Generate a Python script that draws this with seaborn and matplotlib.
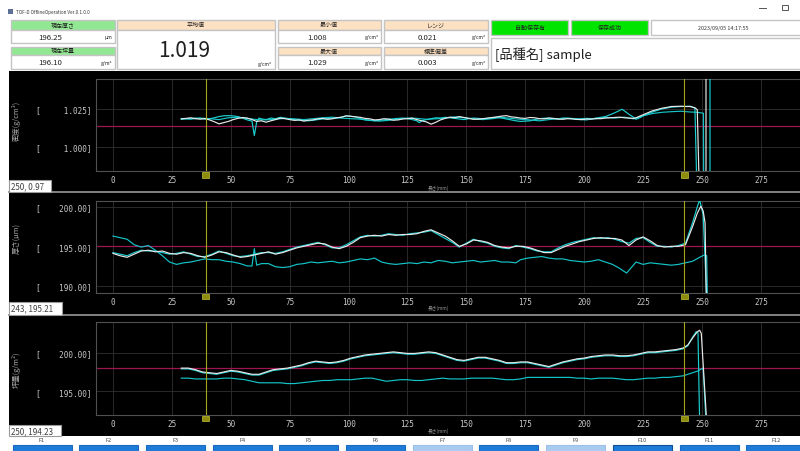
import numpy as np
import pandas as pd
import matplotlib
matplotlib.use("Agg")
import matplotlib.pyplot as plt
from matplotlib.patches import Rectangle
from matplotlib.transforms import blended_transform_factory
import seaborn as sns

plt.rcParams['font.family'] = ['Noto Sans CJK JP', 'DejaVu Sans']
plt.rcParams['axes.unicode_minus'] = False

# ---------------- data ----------------
title_text = "TOF-D OfflineOperation Ver.0.1.0.0"
thick_now = "196.25"
basis_now = "196.10"
mean_val = "1.019"
min_val = "1.008"
max_val = "1.029"
range_val = "0.021"
std_val = "0.003"
timestamp = "2023/09/05 14:17:55"
product = "[品種名] sample"
status_labels = ["自動保存有", "保存成功"]
fkeys = ["F1", "F2", "F3", "F4", "F5", "F6", "F7", "F8", "F9", "F10", "F11", "F12"]
fkey_enabled = [True, True, True, True, True, True, False, True, False, True, True, True]

x_ticks = [0, 25, 50, 75, 100, 125, 150, 175, 200, 225, 250, 275]
cursor_x = [39.3, 242.5]

density_ticks = [1.000, 1.025]
density_target = 1.014
density_white = [(29,1.0185),(31,1.0188),(33,1.0192),(35,1.0186),(37,1.0183),(39,1.0187),(41,1.0178),(43,1.0166),
    (45,1.0152),(47,1.0160),(49,1.0168),(51,1.0180),(53,1.0188),(55,1.0193),(57,1.0190),(59,1.0180),
    (61,1.0168),(63,1.0172),(65,1.0163),(67,1.0172),(69,1.0180),(71,1.0190),(73,1.0186),(75,1.0180),(77,1.0175),
    (79,1.0178),(81,1.0170),(83,1.0176),(85,1.0178),(87,1.0185),(89,1.0188),(91,1.0182),(93,1.0185),(95,1.0192),
    (97,1.0196),(99,1.0205),(101,1.0202),(103,1.0198),(105,1.0195),(107,1.0188),(109,1.0185),(111,1.0178),
    (113,1.0180),(115,1.0186),(117,1.0183),(119,1.0176),(121,1.0178),(123,1.0184),(125,1.0186),(127,1.0190),
    (129,1.0180),(131,1.0172),(133,1.0165),(135,1.0150),(137,1.0162),(139,1.0178),(141,1.0188),(143,1.0196),
    (145,1.0192),(147,1.0200),(149,1.0194),(151,1.0188),(153,1.0182),(155,1.0183),(157,1.0186),(159,1.0190),
    (161,1.0194),(163,1.0198),(165,1.0203),(167,1.0206),(169,1.0198),(171,1.0195),(173,1.0190),(175,1.0188),
    (177,1.0194),(179,1.0192),(181,1.0186),(183,1.0185),(185,1.0190),(187,1.0188),(189,1.0183),(191,1.0182),
    (193,1.0186),(195,1.0185),(197,1.0181),(199,1.0180),(201,1.0184),(203,1.0183),(205,1.0187),(207,1.0186),
    (209,1.0190),(211,1.0192),(213,1.0194),(215,1.0196),(217,1.0192),(219,1.0190),(221,1.0188),(222,1.0192),
    (225,1.0212),(227,1.0225),(229,1.0238),(231,1.0246),(233,1.0255),(235,1.0260),(237,1.0266),(239,1.0267),
    (241,1.0268),(243,1.0266),(245,1.0266),(247,1.0258),(248,1.0245),
    (249.2,0.95),(251.7,0.95),(251.7,1.10)]
density_cyan1 = [(29,1.0182),(31,1.0186),(33,1.0186),(35,1.0190),(37,1.0188),(39,1.0183),(41,1.0185),(43,1.0192),
    (45,1.0200),(47,1.0205),(49,1.0206),(51,1.0204),(53,1.0200),(55,1.0190),(57,1.0178),(59,1.0170),(60,1.0075),
    (61,1.0165),(62,1.0190),(63,1.0185),(65,1.0180),(67,1.0190),(69,1.0186),(71,1.0195),(73,1.0190),(75,1.0185),
    (77,1.0180),(79,1.0176),(81,1.0174),(83,1.0172),(85,1.0176),(87,1.0180),(89,1.0184),(91,1.0186),(93,1.0190),
    (95,1.0190),(97,1.0196),(99,1.0204),(101,1.0201),(103,1.0198),(105,1.0186),(107,1.0178),(109,1.0175),
    (111,1.0172),(113,1.0176),(115,1.0178),(117,1.0183),(119,1.0185),(121,1.0188),(123,1.0190),(125,1.0186),
    (127,1.0180),(129,1.0172),(130,1.0160),(131,1.0172),(133,1.0180),(135,1.0186),(137,1.0192),(139,1.0190),
    (141,1.0195),(143,1.0192),(145,1.0188),(147,1.0184),(149,1.0180),(151,1.0186),(153,1.0190),(155,1.0188),
    (157,1.0185),(159,1.0188),(161,1.0192),(163,1.0195),(165,1.0190),(167,1.0184),(169,1.0178),(171,1.0172),
    (173,1.0168),(175,1.0170),(177,1.0172),(179,1.0180),(181,1.0186),(183,1.0189),(185,1.0190),(187,1.0186),
    (189,1.0185),(191,1.0190),(193,1.0188),(195,1.0185),(197,1.0182),(199,1.0180),(201,1.0178),(203,1.0184),
    (205,1.0190),(207,1.0195),(209,1.0200),(211,1.0212),(213,1.0225),(215,1.0240),(216,1.0248),(217,1.0238),
    (219,1.0215),(221,1.0195),(222,1.0182),(224,1.0195),(225,1.0205),(227,1.0218),(229,1.0230),(231,1.0240),
    (233,1.0250),(235,1.0256),(237,1.0262),(239,1.0264),(241,1.0266),(243,1.0267),(245,1.0268),(247,1.0255),
    (248.2,0.95),(253.4,0.95),(253.4,1.10)]
density_cyan2 = [(29,1.0186),(33,1.0183),(37,1.0190),(41,1.0186),(45,1.0180),(49,1.0192),(53,1.0195),(57,1.0188),
    (61,1.0180),(65,1.0178),(69,1.0183),(73,1.0188),(77,1.0185),(81,1.0180),(85,1.0186),(89,1.0192),(93,1.0196),
    (97,1.0190),(101,1.0186),(105,1.0183),(109,1.0176),(113,1.0170),(117,1.0175),(121,1.0183),(125,1.0190),
    (129,1.0188),(133,1.0182),(137,1.0185),(141,1.0190),(145,1.0198),(149,1.0192),(153,1.0185),(157,1.0180),
    (161,1.0186),(165,1.0195),(169,1.0188),(173,1.0182),(177,1.0178),(181,1.0172),(185,1.0180),(189,1.0186),
    (193,1.0190),(197,1.0185),(201,1.0188),(205,1.0185),(209,1.0195),(213,1.0190),(217,1.0196),(221,1.0185),
    (225,1.0205),(229,1.0220),(233,1.0228),(237,1.0232),(241,1.0235),(245,1.0230),(248,1.0228),(250.6,1.0222),
    (250.8,0.95)]

thick_ticks = [190.0, 195.0, 200.0]
thick_target = 195.0
thick_white = [(0,194.1),(3,193.8),(6,193.6),(9,194.0),(12,194.4),(15,194.5),(18,194.3),(21,194.4),(24,194.1),
    (27,194.0),(30,194.2),(33,194.1),(36,193.8),(39,193.6),(42,193.9),(45,194.3),(48,194.2),(51,193.9),
    (54,193.6),(57,193.7),(60,193.9),(63,194.1),(66,194.3),(69,194.0),(72,194.2),(75,194.5),(78,194.8),
    (81,195.0),(84,195.2),(87,195.4),(90,195.3),(93,194.9),(96,194.7),(99,195.0),(102,195.5),(105,196.1),
    (108,196.3),(111,196.4),(114,196.3),(117,196.5),(120,196.4),(123,196.5),(126,196.5),(129,196.6),
    (132,196.9),(135,197.1),(138,196.7),(141,196.3),(144,195.7),(147,195.0),(150,195.3),(153,195.8),
    (156,195.7),(159,195.5),(162,195.1),(165,194.9),(168,194.8),(171,195.0),(174,195.0),(177,194.8),
    (180,194.5),(183,194.2),(186,194.2),(189,194.6),(192,195.0),(195,195.3),(198,195.6),(201,195.8),
    (204,196.0),(207,196.1),(210,196.0),(213,196.0),(216,195.8),(219,195.1),(222,195.8),(225,196.2),
    (228,195.7),(231,195.1),(234,194.9),(237,195.0),(240,195.0),(243,195.2),(246,197.5),(248,199.2),
    (249.5,200.1),(250.5,199.5),(251.3,198.0),(252,185.0)]
thick_cyan1 = [(0,194.2),(3,194.0),(6,193.8),(9,194.2),(12,194.5),(15,194.4),(18,194.4),(21,194.2),(24,194.0),
    (27,194.1),(30,194.3),(33,194.0),(36,193.7),(39,193.7),(42,194.0),(45,194.4),(48,194.1),(51,193.8),
    (54,193.7),(57,193.8),(60,194.0),(63,194.2),(66,194.2),(69,194.1),(72,194.3),(75,194.6),(78,194.9),
    (81,195.1),(84,195.3),(87,195.5),(90,195.2),(93,194.8),(96,194.8),(99,195.2),(102,195.7),(105,196.2),
    (108,196.4),(111,196.3),(114,196.4),(117,196.6),(120,196.5),(123,196.4),(126,196.6),(129,196.7),
    (132,196.8),(135,197.0),(138,196.5),(141,196.0),(144,195.5),(147,194.9),(150,195.4),(153,195.9),
    (156,195.6),(159,195.4),(162,195.0),(165,194.8),(168,194.7),(171,195.1),(174,194.9),(177,194.7),
    (180,194.4),(183,194.3),(186,194.3),(189,194.8),(192,195.2),(195,195.5),(198,195.7),(201,195.9),
    (204,196.1),(207,196.0),(210,196.1),(213,195.9),(216,195.6),(219,195.4),(222,196.0),(225,196.1),
    (228,195.5),(231,195.0),(234,195.0),(237,194.9),(240,195.1),(243,195.4),(246,198.0),(248,200.0),
    (249,200.9),(250.5,199.0),(252.5,185.0)]
thick_cyan2 = [(0,196.3),(3,196.1),(6,195.9),(9,195.2),(12,194.9),(15,195.1),(18,194.5),(21,193.8),(24,193.0),
    (27,192.7),(30,192.9),(33,193.0),(36,193.2),(39,193.4),(42,193.3),(45,193.3),(48,193.1),(51,193.0),
    (54,192.8),(57,192.5),(59,192.5),(60,194.7),(61,192.6),(63,192.8),(66,192.8),(69,192.4),(72,192.3),
    (75,192.4),(78,192.7),(81,192.8),(84,193.0),(87,192.9),(90,193.0),(93,193.1),(96,192.9),(99,193.0),
    (102,193.2),(105,193.4),(108,193.3),(111,193.5),(114,193.0),(117,192.8),(120,192.7),(123,192.8),
    (126,192.9),(129,192.8),(132,193.0),(135,192.9),(138,193.2),(141,193.1),(144,192.9),(147,193.0),
    (150,193.1),(153,193.2),(156,193.0),(159,193.1),(162,193.2),(165,193.0),(168,193.0),(171,192.9),
    (173,193.3),(176,193.5),(179,193.6),(182,193.7),(185,193.5),(188,193.4),(191,193.4),(194,193.2),
    (197,193.1),(200,193.0),(203,193.1),(206,193.3),(209,193.0),(212,192.7),(215,192.2),(218,191.6),
    (220,192.3),(222,193.0),(225,192.7),(228,192.9),(231,192.8),(234,192.7),(237,192.6),(240,192.7),
    (243,192.9),(246,193.1),(249,193.6),(251,193.9),(252,193.8),(252.5,185.0)]

basis_ticks = [195.0, 200.0]
basis_target = 198.0
basis_white = [(29,198.0),(32,198.0),(35,197.8),(38,197.5),(41,197.4),(44,197.3),(47,197.5),(50,197.7),
    (53,197.6),(56,197.4),(59,197.2),(62,197.2),(65,197.5),(68,197.8),(71,197.9),(74,198.0),(77,198.2),
    (80,198.4),(83,198.7),(86,198.9),(89,198.8),(92,198.7),(95,198.8),(98,199.0),(101,199.3),(104,199.5),
    (107,199.7),(110,199.8),(113,199.9),(116,200.0),(119,200.1),(122,200.0),(125,199.9),(128,199.9),
    (131,200.0),(134,200.1),(137,200.0),(140,199.7),(143,199.4),(146,199.1),(149,199.0),(152,199.2),
    (155,199.4),(158,199.4),(161,199.2),(164,199.0),(167,198.7),(170,198.7),(173,198.8),(176,198.8),
    (179,198.6),(182,198.4),(185,198.2),(188,198.5),(191,198.8),(194,199.0),(197,199.2),(200,199.3),
    (203,199.5),(206,199.6),(209,199.7),(212,199.7),(215,199.6),(218,199.6),(221,199.7),(224,199.9),
    (227,200.1),(230,200.1),(233,200.2),(236,200.3),(239,200.4),(242,200.6),(244,201.0),(246,201.9),
    (248,202.7),(249,202.9),(249.7,202.5),(252,191.0)]
basis_cyan1 = [(29,197.9),(32,197.9),(35,197.7),(38,197.4),(41,197.3),(44,197.2),(47,197.4),(50,197.6),
    (53,197.5),(56,197.3),(59,197.1),(62,197.1),(65,197.4),(68,197.7),(71,197.8),(74,197.9),(77,198.1),
    (80,198.3),(83,198.6),(86,198.8),(89,198.7),(92,198.6),(95,198.7),(98,198.9),(101,199.2),(104,199.4),
    (107,199.6),(110,199.7),(113,199.8),(116,199.9),(119,200.0),(122,199.9),(125,199.8),(128,199.8),
    (131,199.9),(134,200.0),(137,199.9),(140,199.6),(143,199.3),(146,199.0),(149,198.9),(152,199.1),
    (155,199.3),(158,199.3),(161,199.1),(164,198.9),(167,198.6),(170,198.6),(173,198.7),(176,198.7),
    (179,198.5),(182,198.3),(185,198.1),(188,198.4),(191,198.7),(194,198.9),(197,199.1),(200,199.2),
    (203,199.4),(206,199.5),(209,199.6),(212,199.6),(215,199.5),(218,199.5),(221,199.6),(224,199.8),
    (227,200.0),(230,200.0),(233,200.1),(236,200.2),(239,200.3),(242,200.5),(244,200.9),(246,202.0),
    (247.5,202.7),(248.3,202.6),(249,191.0)]
basis_cyan2 = [(29,196.7),(32,196.7),(35,196.6),(38,196.6),(41,196.6),(44,196.6),(47,196.7),(50,196.7),
    (53,196.6),(56,196.5),(59,196.3),(62,196.1),(65,196.1),(68,196.1),(71,196.1),(74,196.0),(77,196.0),
    (80,196.1),(83,196.2),(86,196.3),(89,196.4),(92,196.4),(95,196.5),(98,196.5),(101,196.5),(104,196.6),
    (107,196.7),(110,196.7),(113,196.5),(116,196.3),(119,196.4),(122,196.5),(125,196.5),(128,196.4),
    (131,196.4),(134,196.5),(137,196.6),(140,196.7),(143,196.6),(146,196.6),(149,196.6),(152,196.7),
    (155,196.7),(158,196.7),(161,196.7),(164,196.6),(167,196.5),(170,196.5),(173,196.6),(176,196.8),
    (179,196.8),(182,196.8),(185,196.8),(188,196.8),(191,196.8),(194,196.8),(197,196.7),(200,196.7),
    (203,196.6),(206,196.7),(209,196.7),(212,196.7),(215,196.6),(218,196.5),(221,196.5),(224,196.6),
    (227,196.7),(230,196.7),(233,196.8),(236,196.8),(239,196.9),(242,197.0),(245,197.3),(248,197.6),
    (250.5,198.0),(251.7,191.0)]

# ---------------- figure ----------------
W, H = 800, 452
fig = plt.figure(figsize=(8, 4.52), dpi=100, facecolor='white')
bg = fig.add_axes([0, 0, 1, 1])
bg.set_xlim(0, W)
bg.set_ylim(H, 0)
bg.axis('off')

def box(x0, y0, x1, y1, fc, ec='#c4c4c4', lw=1.0, z=1):
    bg.add_patch(Rectangle((x0, y0), x1 - x0, y1 - y0, facecolor=fc, edgecolor=ec, linewidth=lw, zorder=z))

def txt(x, y, s, size, color='#202020', ha='center', va='center', **kw):
    bg.text(x, y, s, fontsize=size, color=color, ha=ha, va=va, **kw)

GREEN_L = '#92e892'
PEACH = '#fde1c3'
GREEN_B = '#00e400'

# title bar
box(8, 10, 13, 15, '#5d6f95', ec='none')
txt(16, 12.5, title_text, 3.3, color='#333333', ha='left')
bg.plot([759, 766], [9, 9], color='#555555', lw=0.7)
bg.add_patch(Rectangle((782, 6), 6, 5, facecolor='none', edgecolor='#555555', linewidth=0.7))

# left column
box(10.5, 21, 115, 30.5, GREEN_L)
txt(62.7, 25.8, "現在厚さ", 4.3)
box(10.5, 30.5, 115, 44, 'white')
txt(50, 37.5, thick_now, 5.6)
txt(112, 38, "μm", 3.6, ha='right')
box(10.5, 47.5, 115, 56, GREEN_L)
txt(62.7, 51.8, "現在坪量", 4.3)
box(10.5, 56, 115, 70, 'white')
txt(50, 63, basis_now, 5.6)
txt(112, 63.5, "g/m²", 3.6, ha='right')

# mean
box(117, 21, 274.5, 30.5, PEACH)
txt(195.7, 25.8, "平均値", 4.3)
box(117, 30.5, 274.5, 70, 'white')
txt(184, 51, mean_val, 15)
txt(272, 64.5, "g/cm³", 3.6, ha='right')

# min / max
box(277.5, 21, 381, 30.5, PEACH)
txt(329, 25.8, "最小値", 4.3)
box(277.5, 30.5, 381, 44, 'white')
txt(317, 37.5, min_val, 5.6)
txt(379, 38, "g/cm³", 3.6, ha='right')
box(277.5, 47.5, 381, 56, PEACH)
txt(329, 51.8, "最大値", 4.3)
box(277.5, 56, 381, 70, 'white')
txt(317, 63, max_val, 5.6)
txt(379, 63.5, "g/cm³", 3.6, ha='right')

# range / std
box(383.5, 21, 488, 30.5, PEACH)
txt(435.7, 25.8, "レンジ", 4.3)
box(383.5, 30.5, 488, 44, 'white')
txt(427, 37.5, range_val, 5.6)
txt(486, 38, "g/cm³", 3.6, ha='right')
box(383.5, 47.5, 488, 56, PEACH)
txt(435.7, 51.8, "標準偏差", 4.3)
box(383.5, 56, 488, 70, 'white')
txt(427, 63, std_val, 5.6)
txt(486, 63.5, "g/cm³", 3.6, ha='right')

# status
box(491, 20.7, 568, 36, GREEN_B)
txt(529.5, 28.5, status_labels[0], 4.3)
box(571, 20.7, 648, 36, GREEN_B)
txt(609.5, 28.5, status_labels[1], 4.3)
box(651, 20.7, 802, 36, 'white')
txt(723, 28.5, timestamp, 3.9, color='#333333')
box(491, 38.5, 802, 70, 'white')
txt(495, 55, product, 9.5, ha='left')

# black chart area
box(9, 71.5, 802, 437, '#000000', ec='none', z=0)
bg.plot([9, 800], [193.3, 193.3], color='#8c8c8c', lw=1.3)
bg.plot([9, 800], [316.3, 316.3], color='#8c8c8c', lw=1.3)

# function keys (button captions are cut off by the window edge)
for i, (k, en) in enumerate(zip(fkeys, fkey_enabled)):
    cx = 42 + 66.7 * i
    txt(cx, 441, k, 4.0, color='#404040')
    fc = '#1f7bd8' if en else '#a9cbf0'
    ec = '#0e4f9a' if k == 'F10' else ('#1a6cc0' if en else '#9cc0e8')
    box(cx - 29.5, 446, cx + 29.5, 462, fc, ec=ec, lw=0.8)

def px_rect(x0, y0, x1, y1):
    return [x0 / W, 1 - y1 / H, (x1 - x0) / W, (y1 - y0) / H]

charts = [
    dict(top=80, bot=172, ylim=(0.9842, 1.0447), ticks=density_ticks, fmt='{:.3f}', target=density_target,
         series=[density_cyan2, density_cyan1, density_white], ylabel='密度(g/cm³)', ylab_y=121,
         coord='250, 0.97', cbox=(9, 181, 51, 192.5), xlab_y=188),
    dict(top=201.7, bot=293.7, ylim=(189.1, 200.8), ticks=thick_ticks, fmt='{:.2f}', target=thick_target,
         series=[thick_cyan2, thick_cyan1, thick_white], ylabel='厚さ(μm)', ylab_y=239,
         coord='243, 195.21', cbox=(9, 303, 62, 315.5), xlab_y=308),
    dict(top=323, bot=415.7, ylim=(191.97, 203.97), ticks=basis_ticks, fmt='{:.2f}', target=basis_target,
         series=[basis_cyan2, basis_cyan1, basis_white], ylabel='坪量(g/m²)', ylab_y=370,
         coord='250, 194.23', cbox=(9, 426, 61, 437), xlab_y=431),
]
names = ['cyan2', 'cyan1', 'white']
palette = {'cyan2': '#14c4c8', 'cyan1': '#1ccfd0', 'white': '#e8e8e8'}

for c in charts:
    ax = fig.add_axes(px_rect(96, c['top'], 800, c['bot']))
    ax.set_facecolor('black')
    frames = []
    for nm, s in zip(names, c['series']):
        frames.append(pd.DataFrame({'x': [p[0] for p in s], 'y': [p[1] for p in s], 'series': nm}))
    df = pd.concat(frames, ignore_index=True)
    sns.lineplot(data=df, x='x', y='y', hue='series', hue_order=names, palette=palette,
                 sort=False, estimator=None, legend=False, ax=ax, linewidth=0.85, zorder=3)
    ax.set_xlim(-7.2, 291.6)
    ax.set_ylim(*c['ylim'])
    ax.set_xticks(x_ticks)
    ax.set_xticklabels([str(v) for v in x_ticks], fontfamily='DejaVu Sans Mono')
    ax.set_yticks(c['ticks'])
    ax.set_yticklabels(['[' + c['fmt'].format(v).rjust(10) + ']' for v in c['ticks']],
                       fontfamily='DejaVu Sans Mono')
    ax.tick_params(axis='both', colors='#c8c8c8', labelsize=5.5, length=0)
    ax.tick_params(axis='x', pad=3.2)
    ax.tick_params(axis='y', pad=3.5)
    ax.grid(True, color='#303030', linewidth=0.6, zorder=0)
    ax.set_axisbelow(True)
    ax.set_xlabel('')
    ax.set_ylabel('')
    for side in ['left', 'bottom', 'top']:
        ax.spines[side].set_color('#505050')
        ax.spines[side].set_linewidth(0.8)
    ax.spines['right'].set_visible(False)
    ax.axhline(c['target'], color='#9c1650', linewidth=0.9, zorder=2)
    trans = blended_transform_factory(ax.transData, ax.transAxes)
    for cx in cursor_x:
        ax.axvline(cx, color='#a6a41e', linewidth=0.8, zorder=4)
        ax.add_patch(Rectangle((cx - 1.5, -0.072), 3.0, 0.06, transform=trans, clip_on=False,
                               facecolor='#8e8c0c', edgecolor='#c4c23a', linewidth=0.5, zorder=5))
    txt(16.5, c['ylab_y'], c['ylabel'], 5.3, color='#a8a8a8', rotation=90)
    txt(438, c['xlab_y'], '長さ(mm)', 3.4, color='#9a9a9a')
    x0, y0, x1, y1 = c['cbox']
    box(x0, y0, x1, y1, 'white', ec='#9a9a9a', lw=0.8, z=2)
    txt(x0 + 2, (y0 + y1) / 2, c['coord'], 5.8, color='#404040', ha='left', zorder=3)

fig.savefig('out.png', dpi=100, facecolor='white')
